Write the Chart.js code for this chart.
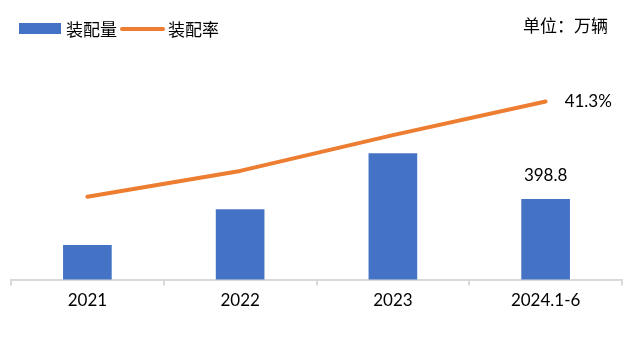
<!DOCTYPE html>
<html>
<head>
<meta charset="utf-8">
<script src="https://cdn.jsdelivr.net/npm/chart.js@4/dist/chart.umd.min.js"></script>
<style>
  html, body { margin: 0; padding: 0; background: #fff; }
  #wrap { position: relative; width: 643px; height: 343px; overflow: hidden; }
  canvas { position: absolute; left: 0; top: 0; }
  .lg { position: absolute; font-family: "Noto Sans CJK SC", sans-serif; font-size: 17px; color: #000; line-height: 20px; white-space: nowrap; }
</style>
</head>
<body>
<div id="wrap">
  <canvas id="c" width="643" height="343"></canvas>
  <div style="position:absolute;left:19px;top:23px;width:42px;height:11px;background:#4472C4"></div>
  <div class="lg" id="lg1" style="left:66px;top:19px"></div>
  <div style="position:absolute;left:120px;top:27px;width:45px;height:4px;border-radius:2px;background:#ED7D31"></div>
  <div class="lg" id="lg2" style="left:168px;top:19px"></div>
  <div class="lg" id="unit" style="left:523px;top:15px"></div>
</div>
<script>
const categories = ['2021', '2022', '2023', '2024.1-6'];
const volume = [170, 348, 626, 398.8];
const rate = [19.2, 25.2, 33.5, 41.3];
const seriesNames = ['装配量', '装配率'];
const unitLabel = '单位：万辆';

document.getElementById('lg1').textContent = seriesNames[0];
document.getElementById('lg2').textContent = seriesNames[1];
document.getElementById('unit').textContent = unitLabel;

const labelPlugin = {
  id: 'lastLabels',
  afterDatasetsDraw(chart) {
    const ctx = chart.ctx;
    ctx.save();
    ctx.fillStyle = '#000';
    ctx.font = '17px Lato';
    ctx.textBaseline = 'middle';
    const barMeta = chart.getDatasetMeta(0);
    const bi = volume.length - 1;
    const bar = barMeta.data[bi];
    ctx.textAlign = 'center';
    ctx.fillText(String(volume[bi]), bar.x, bar.y - 24);
    const lineMeta = chart.getDatasetMeta(1);
    const li = rate.length - 1;
    const pt = lineMeta.data[li];
    ctx.textAlign = 'left';
    ctx.fillText(rate[li].toFixed(1) + '%', pt.x + 19, pt.y);
    ctx.restore();
  }
};

new Chart(document.getElementById('c'), {
  type: 'bar',
  data: {
    labels: categories,
    datasets: [
      {
        type: 'bar',
        label: seriesNames[0],
        data: volume,
        backgroundColor: '#4472C4',
        barThickness: 48,
        yAxisID: 'y',
        order: 2
      },
      {
        type: 'line',
        label: seriesNames[1],
        data: rate,
        borderColor: '#ED7D31',
        backgroundColor: '#ED7D31',
        borderWidth: 4,
        borderCapStyle: 'round',
        borderJoinStyle: 'round',
        pointRadius: 0,
        tension: 0,
        yAxisID: 'y1',
        order: 1
      }
    ]
  },
  options: {
    responsive: false,
    animation: false,
    layout: { padding: { top: 51, left: 11, right: 21, bottom: 27 } },
    plugins: { legend: { display: false }, tooltip: { enabled: false } },
    scales: {
      x: {
        grid: { display: true, drawOnChartArea: false, drawTicks: true, tickLength: 6, color: '#d9d9d9', lineWidth: 2, offset: true },
        border: { display: true, color: '#d9d9d9', width: 2 },
        ticks: { color: '#000', font: { family: 'Lato', size: 17 }, padding: 5 }
      },
      y: { display: false, min: 0, max: 1135 },
      y1: { display: false, min: 0, max: 53 }
    }
  },
  plugins: [labelPlugin]
});
</script>
</body>
</html>
